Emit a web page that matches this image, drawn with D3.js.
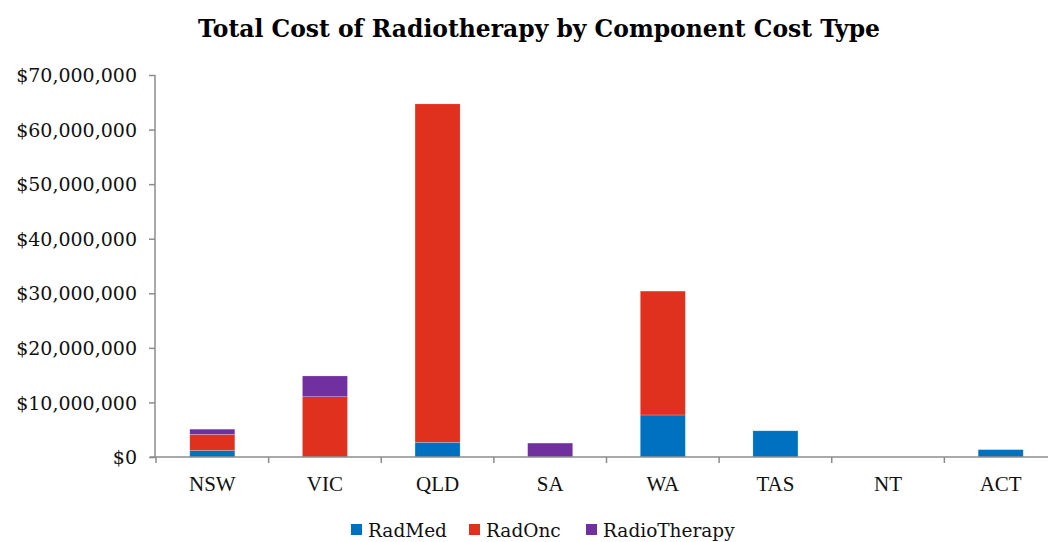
<!DOCTYPE html>
<html>
<head>
<meta charset="utf-8">
<script src="https://cdn.jsdelivr.net/npm/d3@7"></script>
<style>
  body { margin: 0; background: #fff; }
  svg { display: block; }
</style>
</head>
<body>
<svg id="chart" width="1048" height="542"></svg>
<script>
const states = ["NSW", "VIC", "QLD", "SA", "WA", "TAS", "NT", "ACT"];
const seriesNames = ["RadMed", "RadOnc", "RadioTherapy"];
const radMed = [1200000, 0, 2700000, 0, 7700000, 4800000, 0, 1350000];
const radOnc = [2950000, 11050000, 62000000, 0, 22700000, 0, 0, 0];
const radioTherapy = [950000, 3800000, 0, 2550000, 0, 0, 0, 0];
const yTicks = [0, 10000000, 20000000, 30000000, 40000000, 50000000, 60000000, 70000000];
const colors = ["#0070C0", "#E0301E", "#7030A0"];

const width = 1048;
const height = 542;
const plotLeft = 156, plotRight = 1057, plotTop = 75, plotBottom = 457;
const axisColor = "#8c8c8c";

const rows = states.map((s, i) => ({
  state: s, RadMed: radMed[i], RadOnc: radOnc[i], RadioTherapy: radioTherapy[i]
}));
const stacked = d3.stack().keys(seriesNames)(rows);

const x = d3.scaleBand().domain(states).range([plotLeft, plotRight]).paddingInner(0.6).paddingOuter(0.3);
const y = d3.scaleLinear().domain([0, 70000000]).range([plotBottom, plotTop]);

const svg = d3.select("#chart");

// Title
svg.append("text")
  .attr("x", 539).attr("y", 37)
  .attr("text-anchor", "middle")
  .attr("font-family", "'DejaVu Serif', Georgia, serif")
  .attr("font-weight", "bold")
  .attr("font-size", 25)
  .attr("textLength", 682)
  .attr("lengthAdjust", "spacingAndGlyphs")
  .text("Total Cost of Radiotherapy by Component Cost Type");

// Bars
svg.append("g").selectAll("g")
  .data(stacked)
  .join("g")
  .attr("fill", (d, i) => colors[i])
  .selectAll("rect")
  .data(d => d)
  .join("rect")
  .attr("x", d => x(d.data.state))
  .attr("width", x.bandwidth())
  .attr("y", d => y(d[1]))
  .attr("height", d => y(d[0]) - y(d[1]))
  .attr("stroke", "rgba(255,255,255,0.35)")
  .attr("stroke-width", 0.6);

// Y axis
const yAxis = d3.axisLeft(y)
  .tickValues(yTicks)
  .tickSize(6)
  .tickPadding(12)
  .tickFormat(d => "$" + d3.format(",")(d));
const gy = svg.append("g")
  .attr("transform", `translate(${plotLeft - 1},0)`)
  .call(yAxis);
gy.select(".domain").attr("stroke", axisColor).attr("stroke-width", 1.5).attr("d", `M0,${plotTop}V${plotBottom}`);
gy.selectAll(".tick line").attr("stroke", axisColor).attr("stroke-width", 1.5);
gy.selectAll(".tick text")
  .attr("fill", "#111")
  .attr("font-family", "'DejaVu Serif', Georgia, serif")
  .attr("font-size", 19)
  .attr("dy", "0.35em");

// X axis
const band = (plotRight - plotLeft) / states.length;
const gx = svg.append("g")
  .attr("transform", `translate(0,${plotBottom})`);
gx.append("line")
  .attr("x1", plotLeft - 6).attr("x2", width)
  .attr("stroke", axisColor).attr("stroke-width", 1.5);
gx.selectAll(".xt")
  .data(d3.range(states.length + 1))
  .join("line")
  .attr("x1", i => plotLeft + i * band).attr("x2", i => plotLeft + i * band)
  .attr("y1", 0).attr("y2", 6)
  .attr("stroke", axisColor).attr("stroke-width", 1.5);
gx.selectAll(".xl")
  .data(states)
  .join("text")
  .attr("x", d => x(d) + x.bandwidth() / 2)
  .attr("y", 34)
  .attr("text-anchor", "middle")
  .attr("font-family", "'Liberation Serif', 'Times New Roman', serif")
  .attr("font-size", 21)
  .attr("fill", "#111")
  .text(d => d);

// Legend
const legendX = [351, 469, 586];
const legend = svg.append("g");
seriesNames.forEach((name, i) => {
  legend.append("rect")
    .attr("x", legendX[i]).attr("y", 524)
    .attr("width", 11).attr("height", 11)
    .attr("fill", colors[i]);
  legend.append("text")
    .attr("x", legendX[i] + 17).attr("y", 537)
    .attr("font-family", "'DejaVu Serif', Georgia, serif")
    .attr("font-size", 18.5)
    .attr("fill", "#111")
    .text(name);
});
</script>
</body>
</html>
